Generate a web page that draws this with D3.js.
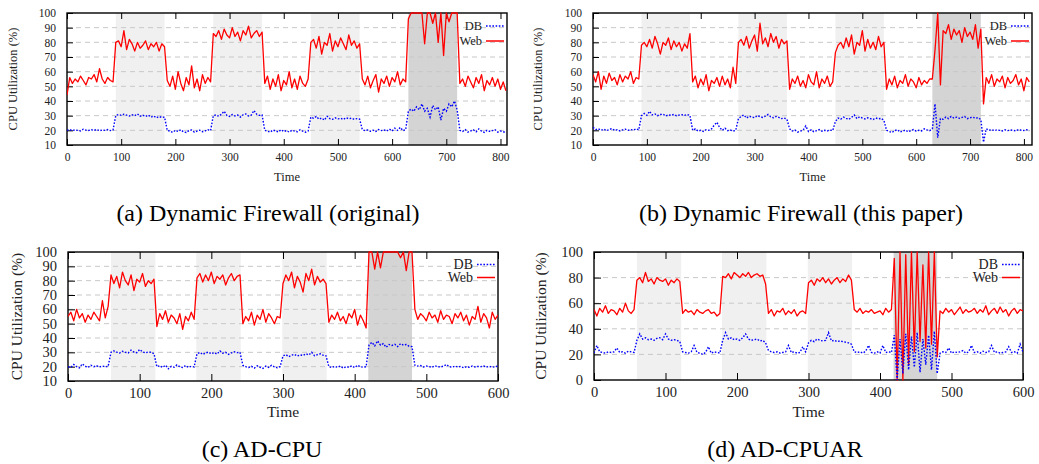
<!DOCTYPE html>
<html>
<head>
<meta charset="utf-8">
<script src="https://cdn.jsdelivr.net/npm/d3@7"></script>
<style>
  body { margin: 0; background: #fff; }
  svg { display: block; }
  text { font-family: "Liberation Serif", "Times New Roman", serif; }
</style>
</head>
<body>
<svg id="chart" width="1039" height="464" font-family="Liberation Serif"></svg>
<script>
// time grids (seconds)
const timesFw = d3.range(0, 811, 5);   // panels a, b
const timesAd = d3.range(0, 601, 4);   // panels c, d

// (a) Dynamic Firewall (original)
const webA = [
  44,56,52,55,53,57,54,51,56,55,58,53,62,55,52,56,54,53,
  80,81,77,88,75,82,79,74,80,76,78,81,75,79,77,80,74,79,77,
  54,50,57,48,60,52,47,56,51,64,49,55,47,58,52,56,53,
  86,84,88,82,89,85,83,90,84,87,81,88,85,91,83,86,88,84,87,
  52,57,48,55,50,58,47,54,51,60,49,55,48,57,52,50,55,
  80,82,76,84,72,80,78,86,74,81,77,83,79,75,85,78,81,76,79,
  55,51,57,49,54,58,46,55,52,57,50,56,53,60,51,55,53,
  96,100,100,100,100,100,79,100,100,93,100,80,100,71,100,94,100,100,100,
  52,55,50,57,53,49,56,52,58,47,54,51,56,50,55,48,53,47
];
const dbA = [
  20,20.5,19.8,20.3,20,19.6,20.8,20.1,19.9,20.4,20,20.6,19.7,20.2,20,20.5,19.8,20.3,
  30,30.8,30.2,31,30.4,29.8,30.6,30,31.2,29.6,30.3,29.5,30.4,29,29.8,28.6,29.4,28.8,29,
  20,19.5,18.6,20,19.2,20.4,19,18.5,19.8,20.2,18.8,19.5,20.1,19,19.6,20.4,19.8,
  30,30.5,29.6,31,33,30.2,29.4,30.8,29.8,30.4,29,30.6,31.2,29.8,30.4,33.5,31,30.2,30.5,
  20,19.4,18.8,20.2,19.6,18.9,20.4,19.2,19.8,18.8,20,19.5,19,20.3,19.4,18.7,19.6,
  29,28.2,29.5,27.6,28.4,27,29.6,28,27.5,28.5,27.8,28.2,27.4,28.6,27.9,28.3,27.5,28,27.6,
  20.5,19.8,20.2,19.4,20.1,19.2,20.6,19.8,20.3,19.5,20.8,19.6,21.5,20,22,19.8,20.5,
  33,34.5,33,36,34,38,33,35,29,37,34,36,27,35,33,38,36,40,34,
  20,19.2,20.5,18.8,19.6,20.3,19,21,19.4,18.6,20,19.3,19.8,20.4,18.8,19.5,19,18.5
];

// (b) Dynamic Firewall (this paper)
const webB = [
  58,53,60,48,57,52,59,54,56,51,58,53,57,55,60,52,56,55,
  78,80,77,82,76,84,79,72,80,78,83,75,81,77,80,74,79,76,86,
  53,57,49,55,51,58,47,54,52,56,50,57,51,55,49,63,52,
  80,82,78,84,76,81,85,74,93,79,83,77,86,80,84,76,82,79,81,
  48,55,52,57,50,54,49,58,53,51,60,49,55,52,57,50,53,
  73,78,80,76,83,77,85,72,80,78,88,74,82,76,80,75,84,77,80,
  48,55,51,57,49,54,52,58,50,55,53,49,56,51,54,52,55,
  55,75,100,51,88,86,92,82,89,85,88,80,90,84,87,82,92,76,89,
  38,56,52,58,50,55,53,57,49,56,52,54,58,51,55,47,56,53
];
const dbB = [
  22,20.5,21,20,20.8,19.8,20.5,21.2,20,20.4,19.6,20.3,20.8,20,20.5,20.2,21,20.3,
  30,31.5,30.2,33,30.5,31.2,30,30.8,31,29.8,30.5,30.2,30.8,30,30.4,30.6,30.2,30.8,30.2,
  20,21,19.5,20,19.2,20.4,20,21,23.5,25.5,22,20,21.5,19.8,20.2,19.5,20,
  28,29.5,30.5,28.4,29.6,29,28.6,30,29.4,28.8,29.6,30.8,29.2,28.6,29.5,28.8,28,28.4,27.6,
  21,19.5,20.2,18.8,19.5,20,23,19.2,20.4,19,19.8,20.5,19.4,20,19.6,20.2,19.8,
  26,28.4,27.6,29,28.2,27.5,28.8,30.5,28,29.2,28.4,27.8,28.6,28,27.4,28.4,27.8,28.2,26.8,
  20,19.2,18.5,19.8,20.4,18.8,19.5,20.2,19,19.8,20.5,19.4,20,19.6,21,20.3,19.8,
  21,38,15,28,27.5,29,28,29.5,28.4,29,28.2,28.8,29.4,28,28.6,29,28.2,28.6,27.4,
  12,21,20,20.5,19.8,20.3,20,19.6,20.4,19.8,20.2,20,19.7,20.6,20.1,19.9,20.4,19.6
];

// (c) AD-CPU
const webC = [
  55,58,52,60,54,57,51,56,53,58,55,52,66,54,62,
  84,78,83,75,86,80,77,84,73,81,79,85,76,80,78,81,
  48,57,53,59,51,56,54,50,57,46,55,52,58,53,
  82,85,79,84,80,86,78,83,81,84,77,82,85,80,83,84,
  50,55,52,58,49,56,53,60,51,57,54,50,55,54,
  78,84,80,86,75,83,79,72,85,80,88,77,83,79,81,78,
  51,56,53,58,52,55,50,57,54,60,49,56,52,47,
  100,100,88,100,89,100,100,100,100,100,100,96,100,87,100,100,
  60,53,57,55,52,58,54,56,51,59,53,56,55,50,57,54,58,52,56,49,55,53,62,51,57,54,47,58,53,56
];
const dbC = [
  20,19.5,21.5,20,19.2,22,20.3,19.5,21,20,20.6,19.8,20.4,20,20.2,
  30,31,30.2,29.5,30.8,30,29.6,31.5,30.2,29.8,32,30.4,29.6,30.2,30,29,
  20,20.6,19.5,21,18.5,20.2,19.6,21.2,20,19.4,20.8,19.6,20.2,19.8,
  29,30,28.6,29.5,30.2,29,29.8,28.8,31,29.4,30,28.6,29.6,30.4,29.8,30,
  21,20,19.4,20.2,19,20.6,19.6,18.8,20.4,19.5,21,19.8,19.2,20,
  27.5,28.4,27,28,28.6,27.4,28.2,27.8,29,28.2,30,27.6,28.4,29,28,27.6,
  20,19.4,20.2,19.6,20.4,19,20,19.6,20.6,19.4,21,20,19.6,20,
  35,37,34.5,38,35,36,33.5,35.5,34.8,35.6,34,36,35,35.5,34.2,34,
  21,20.4,20.8,19.8,20.4,20,19.6,20.6,20,19.8,20.4,21.5,20,19.6,20.4,19.8,20.2,19.2,20,19.6,
  20.4,19.8,20.2,20,20.4,19.8,20.2,19.6,20,20.4
];

// (d) AD-CPUAR
const webD = [
  55,50,56,53,58,52,55,54,51,56,53,60,54,52,55,
  78,80,76,84,77,79,75,80,78,77,79,74,78,76,79,77,
  52,55,53,54,51,55,53,52,54,55,52,53,50,52,
  81,80,83,79,84,82,80,83,81,84,80,82,83,81,82,75,
  52,55,50,54,53,56,51,54,52,55,50,53,54,52,
  76,78,74,79,77,80,76,79,75,78,80,76,79,77,82,78,
  55,53,56,52,54,53,55,52,53,54,51,56,53,55,
  95,0,100,0,98,12,100,22,100,30,90,25,100,28,100,18,
  54,52,56,53,55,51,54,57,52,55,53,54,56,52,55,53,58,51,54,56,52,57,53,55,50,54,56,52,55,54
];
const dbD = [
  21,27,22,21.5,21,22,21.5,22,25,21.5,22,21,22.5,22,21.5,
  31,36,32,33,31.5,32,31,32.5,33,31.5,36,32,31,31.5,31,30,
  22,21.5,21,22,27,21.5,21,20,21.5,26,21,22,21.5,21,
  31,37,32,33,31.5,32,31,33,36,32,31,31.5,32,30.5,31,29,
  23,22,21.5,22,21,21.5,22,27,21.5,22,21,21.5,26,22,
  29,31,30,32,31,30.5,31,37,30.5,31,30,30.5,30,29.5,29,28,
  22,21.5,22,21,22.5,27,21.5,21,22,21,27,21.5,22,21.5,
  35,0,32,5,36,8,34,10,37,6,32,12,35,8,38,5,
  21,22,21.5,25,21,22,21.5,22,23,21,22,27,21.5,22,21,22.5,21.5,22,27,21.5,
  22,21,21.5,22,26,21.5,22,21,28,21.5
];

// attack windows [start, end, heavy]
const bandsFw = [[90, 180, false], [270, 360, false], [450, 540, false], [630, 720, true]];
const bandsAd = [[60, 122, false], [179, 241, false], [299, 361, false], [419, 480, true]];

const yTicksFw = d3.range(10, 101, 10);
const yTicksAr = d3.range(0, 101, 20);
const xTicksFw = d3.range(0, 801, 100);
const xTicksAd = d3.range(0, 601, 100);

const captions = [
  "(a) Dynamic Firewall (original)",
  "(b) Dynamic Firewall (this paper)",
  "(c) AD-CPU",
  "(d) AD-CPUAR",
];

const FONT = "Liberation Serif";
const svg = d3.select("#chart");

function panel(cfg) {
  const g = svg.append("g").attr("font-family", FONT);
  const right = cfg.left + cfg.width;
  const bottom = cfg.top + cfg.height;
  const x = d3.scaleLinear().domain(cfg.xDomain).range([cfg.left, right]);
  const y = d3.scaleLinear().domain(cfg.yDomain).range([bottom, cfg.top]);

  // shaded windows
  cfg.bands.forEach(b => {
    g.append("rect")
      .attr("x", x(b[0]))
      .attr("y", cfg.top)
      .attr("width", x(b[1]) - x(b[0]))
      .attr("height", cfg.height)
      .attr("fill", b[2] ? "#d4d4d4" : "#f0f0f0");
  });

  // dashed grid
  cfg.yTicks.slice(1, -1).forEach(t => {
    g.append("line")
      .attr("x1", cfg.left).attr("x2", right)
      .attr("y1", y(t)).attr("y2", y(t))
      .attr("stroke", "#c8c8c8")
      .attr("stroke-width", 1)
      .attr("stroke-dasharray", "5,4");
  });

  // ticks (inward), bottom + mirrored top, left
  const tl = cfg.tickLen;
  const styleText = a => a.selectAll("text")
    .attr("font-size", cfg.tickFont)
    .attr("fill", "#222")
    .attr("font-family", FONT);
  g.append("g")
    .attr("transform", `translate(0,${bottom})`)
    .call(d3.axisBottom(x).tickValues(cfg.xTicks).tickSize(-tl).tickSizeOuter(0).tickPadding(cfg.xPad))
    .call(a => a.select(".domain").remove())
    .call(styleText);
  g.append("g")
    .attr("transform", `translate(0,${cfg.top})`)
    .call(d3.axisTop(x).tickValues(cfg.xTicks).tickSize(-tl).tickSizeOuter(0).tickFormat(""))
    .call(a => a.select(".domain").remove());
  g.append("g")
    .attr("transform", `translate(${cfg.left},0)`)
    .call(d3.axisLeft(y).tickValues(cfg.yTicks).tickSize(-tl).tickSizeOuter(0).tickPadding(cfg.yPad))
    .call(a => a.select(".domain").remove())
    .call(styleText);
  g.selectAll(".tick line").attr("stroke", "#000").attr("stroke-width", 1);

  // border
  g.append("rect")
    .attr("x", cfg.left).attr("y", cfg.top)
    .attr("width", cfg.width).attr("height", cfg.height)
    .attr("fill", "none")
    .attr("stroke", "#000")
    .attr("stroke-width", 1.4);

  // series
  const clipId = "clip-" + cfg.id;
  svg.append("clipPath").attr("id", clipId)
    .append("rect")
    .attr("x", cfg.left).attr("y", cfg.top - 1)
    .attr("width", cfg.width).attr("height", cfg.height + 2);

  const line = d3.line()
    .x((d, i) => x(cfg.times[i]))
    .y(d => y(d));

  g.append("path")
    .datum(cfg.web)
    .attr("clip-path", `url(#${clipId})`)
    .attr("d", line)
    .attr("fill", "none")
    .attr("stroke", "#ff0000")
    .attr("stroke-width", 1.3)
    .attr("stroke-linejoin", "round");

  g.append("path")
    .datum(cfg.db)
    .attr("clip-path", `url(#${clipId})`)
    .attr("d", line)
    .attr("fill", "none")
    .attr("stroke", "#0000ff")
    .attr("stroke-width", 1.4)
    .attr("stroke-dasharray", "1.6,1.6");

  // legend
  const lg = g.append("g");
  [["DB", "#0000ff", "1.6,1.6", cfg.legY[0]], ["Web", "#ff0000", null, cfg.legY[1]]]
    .forEach(([name, colour, dash, ly]) => {
      lg.append("text")
        .attr("x", right - cfg.legTextGap)
        .attr("y", ly)
        .attr("dy", "0.35em")
        .attr("text-anchor", "end")
        .attr("font-size", cfg.legFont)
        .attr("fill", "#222")
        .text(name);
      lg.append("line")
        .attr("x1", right - cfg.legTextGap + 4)
        .attr("x2", right - 3)
        .attr("y1", ly).attr("y2", ly)
        .attr("stroke", colour)
        .attr("stroke-width", 1.5)
        .attr("stroke-dasharray", dash);
    });

  // axis titles
  g.append("text")
    .attr("transform", `translate(${cfg.yTitleX},${(cfg.top + bottom) / 2}) rotate(-90)`)
    .attr("text-anchor", "middle")
    .attr("dy", "0.35em")
    .attr("font-size", cfg.labelFont)
    .attr("fill", "#222")
    .text("CPU Utilization (%)");

  g.append("text")
    .attr("x", (cfg.left + right) / 2)
    .attr("y", cfg.timeY)
    .attr("dy", "0.35em")
    .attr("text-anchor", "middle")
    .attr("font-size", cfg.labelFont)
    .attr("fill", "#222")
    .text("Time");

  // caption
  g.append("text")
    .attr("x", cfg.capX)
    .attr("y", cfg.capY)
    .attr("dy", "0.35em")
    .attr("text-anchor", "middle")
    .attr("font-size", 24)
    .attr("fill", "#000")
    .text(cfg.caption);
}

const topRow = { top: 13, height: 132, tickLen: 6, tickFont: 11.5, labelFont: 12.5, legFont: 12.5,
  xPad: 8, yPad: 11, legTextGap: 25, legY: [26, 41], timeY: 177, capY: 213 };
const lowRow = { top: 252, height: 129, tickLen: 7, tickFont: 14.5, labelFont: 15.5, legFont: 14,
  xPad: 7, yPad: 11, legTextGap: 25, legY: [264.5, 277.5], timeY: 412, capY: 449 };

panel(Object.assign({}, topRow, {
  id: "a", left: 67, width: 440, xDomain: [0, 812], yDomain: [10, 100],
  xTicks: xTicksFw, yTicks: yTicksFw, bands: bandsFw, times: timesFw,
  web: webA, db: dbA, yTitleX: 13, capX: 268, caption: captions[0],
}));
panel(Object.assign({}, topRow, {
  id: "b", left: 593, width: 439, xDomain: [0, 815], yDomain: [10, 100],
  xTicks: xTicksFw, yTicks: yTicksFw, bands: bandsFw, times: timesFw,
  web: webB, db: dbB, yTitleX: 538, capX: 801, caption: captions[1],
}));
panel(Object.assign({}, lowRow, {
  id: "c", left: 68, width: 430, xDomain: [0, 600], yDomain: [10, 100],
  xTicks: xTicksAd, yTicks: yTicksFw, bands: bandsAd, times: timesAd,
  web: webC, db: dbC, yTitleX: 17, capX: 262, caption: captions[2],
}));
panel(Object.assign({}, lowRow, {
  id: "d", left: 594, width: 429, height: 128, xDomain: [0, 600], yDomain: [0, 100],
  xTicks: xTicksAd, yTicks: yTicksAr, bands: bandsAd, times: timesAd,
  web: webD, db: dbD, yTitleX: 541, capX: 785, caption: captions[3],
}));
</script>
</body>
</html>
